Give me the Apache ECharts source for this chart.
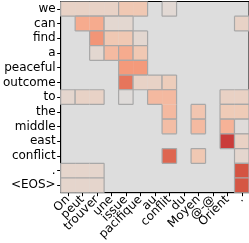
<!DOCTYPE html>
<html><head><meta charset="utf-8">
<script src="https://cdn.jsdelivr.net/npm/echarts@6/dist/echarts.min.js"></script>
<style>html,body{margin:0;padding:0;background:#fff}#c{width:249px;height:243px}</style>
</head><body><div id="c"></div>
<script>
const srcTokens = ["On","peut","trouver","une","issue","pacifique","au","conflit","du","Moyen","@-@","Orient","."];
const tgtTokens = ["we","can","find","a","peaceful","outcome","to","the","middle","east","conflict",".","<EOS>"];
// attention weights, rows = target tokens, cols = source tokens (0 = none)
const r_we       = [0.12,0.12,0.12,0.12,0.22,0.22,0,0.05,0,0,0,0,0];
const r_can      = [0,0.42,0.42,0.07,0.07,0,0,0,0,0,0,0,0.12];
const r_find     = [0,0,0.52,0.22,0.22,0.07,0,0,0,0,0,0,0];
const r_a        = [0,0,0.07,0.32,0.42,0.22,0,0,0,0,0,0,0];
const r_peaceful = [0,0,0,0,0.5,0.5,0,0,0,0,0,0,0];
const r_outcome  = [0,0,0,0,0.65,0.12,0.12,0.18,0,0,0,0,0];
const r_to       = [0.08,0.12,0.12,0,0.02,0,0.33,0.33,0,0,0,0.13,0.13];
const r_the      = [0,0,0,0,0,0,0,0.33,0,0.24,0,0.2,0.2];
const r_middle   = [0,0,0,0,0,0,0,0.3,0,0.32,0,0.38,0.02];
const r_east     = [0,0,0,0,0,0,0,0,0,0,0,0.86,0.13];
const r_conflict = [0,0,0,0,0,0,0,0.72,0,0.22,0,0,0.08];
const r_dot      = [0.09,0.09,0.09,0,0,0,0,0,0,0,0,0,0.8];
const r_eos      = [0.088,0.088,0.088,0,0,0,0,0,0,0,0,0,0.79];
const rows = [r_we,r_can,r_find,r_a,r_peaceful,r_outcome,r_to,r_the,r_middle,r_east,r_conflict,r_dot,r_eos];

const stops = [[0,[221,221,221]],[0.2,[239,203,183]],[0.4,[247,175,147]],[0.5,[244,154,123]],[0.6,[236,128,101]],[0.8,[212,84,66]],[1,[180,4,38]]];
function cmap(u){
  for(let i=1;i<stops.length;i++){
    if(u<=stops[i][0]){
      const a=stops[i-1],b=stops[i];const f=(u-a[0])/(b[0]-a[0]);
      const c=a[1].map((v,k)=>Math.round(v+(b[1][k]-v)*f));
      return 'rgb('+c.join(',')+')';
    }
  }
  return 'rgb(180,4,38)';
}
const data=[];
rows.forEach((r,y)=>r.forEach((v,x)=>{ if(v>0) data.push([x,y,v]); }));
function val(x,y){ if(y<0||y>=rows.length||x<0||x>=srcTokens.length) return 0; return rows[y][x]; }

const chart = echarts.init(document.getElementById('c'),null,{renderer:'canvas'});
const font = {fontFamily:'DejaVu Sans',fontSize:12,color:'#000'};
chart.setOption({
  animation:false,
  grid:{left:56,top:1.5,width:193,height:192,show:true,backgroundColor:'#dddddd',borderColor:'#000',borderWidth:1},
  xAxis:{type:'category',data:srcTokens,position:'bottom',
    axisLine:{show:true,lineStyle:{color:'#000',width:1}},
    axisTick:{show:true,alignWithLabel:true,length:3.5,lineStyle:{color:'#000'}},
    axisLabel:Object.assign({rotate:45,interval:0,margin:5},font),splitLine:{show:false}},
  yAxis:{type:'category',data:tgtTokens,inverse:true,
    axisLine:{show:true,lineStyle:{color:'#000',width:1}},
    axisTick:{show:true,alignWithLabel:true,length:3.5,lineStyle:{color:'#000'}},
    axisLabel:Object.assign({interval:0,margin:5},font),splitLine:{show:false}},
  series:[{type:'custom',data:data,clip:true,
    renderItem:function(params,api){
      const x=api.value(0),y=api.value(1),v=api.value(2);
      const c=api.coord([x,y]);const s=api.size([1,1]);
      const x0=c[0]-s[0]/2,y0=c[1]-s[1]/2,x1=x0+s[0],y1=y0+s[1];
      const children=[{type:'rect',shape:{x:x0,y:y0,width:s[0],height:s[1]},style:{fill:cmap(v)}}];
      const ls={stroke:'#a8a8a8',lineWidth:1.2};
      if(val(x,y-1)!==v) children.push({type:'line',shape:{x1:x0,y1:y0,x2:x1,y2:y0},style:ls});
      if(val(x,y+1)!==v) children.push({type:'line',shape:{x1:x0,y1:y1,x2:x1,y2:y1},style:ls});
      if(val(x-1,y)!==v) children.push({type:'line',shape:{x1:x0,y1:y0,x2:x0,y2:y1},style:ls});
      if(val(x+1,y)!==v) children.push({type:'line',shape:{x1:x1,y1:y0,x2:x1,y2:y1},style:ls});
      return {type:'group',children:children};
    }}]
});
</script></body></html>
